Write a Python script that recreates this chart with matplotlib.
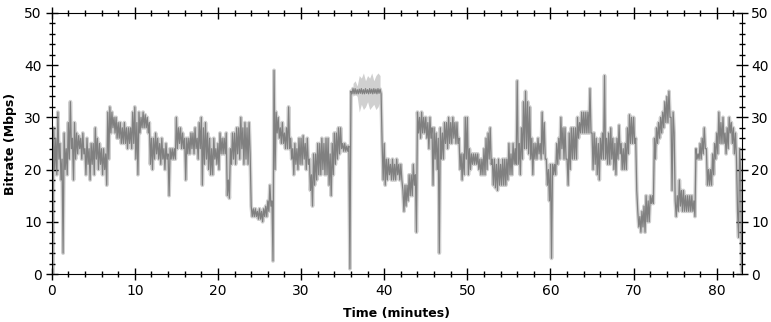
import numpy as np
import matplotlib
matplotlib.use("Agg")
import matplotlib.pyplot as plt
from matplotlib.ticker import MultipleLocator

# upper and lower edge of the dark bitrate trace,
# one value every 0.25 minute (4 per row = 1 minute)
band_hi = [
    28, 28, 26, 31,       # 0
    25, 22, 27, 24,       # 1
    29, 33, 26, 29,       # 2
    27, 26.5, 26, 27,     # 3
    24, 26, 24, 25,       # 4
    25, 28, 26, 25,       # 5
    24, 24, 23, 31,       # 6
    32, 31, 30, 30,       # 7
    29, 29, 28, 29,       # 8
    28, 28, 28, 31,       # 9
    32, 29, 31, 30,       # 10
    31, 30.5, 30, 29,     # 11
    26, 26, 27, 26,       # 12
    25, 26, 24, 25,       # 13
    23, 24, 24, 24,       # 14
    30, 28, 28, 27,       # 15
    26, 26, 26, 27,       # 16
    27, 28, 26, 29,       # 17
    30, 28, 29, 27,       # 18
    26, 24, 26, 24,       # 19
    25, 27, 26, 26,       # 20
    27, 18, 24, 27,       # 21
    27, 28, 28, 30,       # 22
    28, 29, 28, 29,       # 23
    13, 12.5, 12.5, 12,   # 24
    12.5, 12, 12.5, 13,   # 25
    14, 17, 14, 39,       # 26
    31, 30, 28, 29,       # 27
    27, 28, 32, 26,       # 28
    24, 25, 24, 26,       # 29
    26, 26.5, 25, 26,     # 30
    22, 19, 23, 23,       # 31
    25, 25, 26, 25,       # 32
    26, 26, 23, 25,       # 33
    27, 27, 28, 28,       # 34
    25, 25, 24.5, 24.5,   # 35
    35, 35.5, 35.5, 35.3, # 36
    35.4, 35.5, 35.3, 35.5, # 37
    35.3, 35.5, 35.4, 35.5, # 38
    35.4, 35.5, 35.4, 25, # 39
    25, 22, 22, 21,       # 40
    22, 21, 22, 21,       # 41
    21, 16, 17, 17,       # 42
    19, 19, 21, 19,       # 43
    31, 30, 31, 30,       # 44
    30, 29, 30, 28,       # 45
    28, 27, 26, 28,       # 46
    27, 29, 29, 30,       # 47
    29, 30, 29, 29,       # 48
    26, 23, 23, 30,       # 49
    30, 24, 23, 23,       # 50
    23, 23, 22, 22,       # 51
    24, 26, 27, 28,       # 52
    22, 22, 21, 22,       # 53
    21, 22, 22, 22,       # 54
    25, 23, 25, 24,       # 55
    37, 25, 28, 33,       # 56
    35, 33, 32, 26,       # 57
    25, 25, 26, 25,       # 58
    31, 29, 22, 20,       # 59
    21, 21, 21, 25,       # 60
    26, 30, 28, 28,       # 61
    22, 27, 28, 28,       # 62
    28, 30, 29, 31,       # 63
    31, 31, 31, 35.5,     # 64
    27, 27, 26, 25,       # 65
    26, 27, 38, 26,       # 66
    27, 28, 26, 25,       # 67
    26, 28.5, 25, 24,     # 68
    25, 28, 30.5, 30,     # 69
    30, 26, 12, 11,       # 70
    12, 13, 15, 14,       # 71
    15, 15, 26, 28,       # 72
    29, 30, 31, 33,       # 73
    34, 35, 30, 31,       # 74
    14, 15, 18, 16,       # 75
    16, 15, 15, 15,       # 76
    15, 14, 24, 23,       # 77
    25, 26, 28, 24,       # 78
    20, 20, 23, 25,       # 79
    27, 31, 29, 30,       # 80
    27, 28, 30, 29,       # 81
    28, 27, 12, 24,       # 82
    0.5,                  # 83
]
band_lo = [
    0, 20, 19, 22,        # 0
    18, 4, 20, 19,        # 1
    22, 24, 18, 22,       # 2
    23, 24, 22, 23,       # 3
    19, 21, 18, 21,       # 4
    19, 22, 20, 21,       # 5
    19, 20, 17, 22,       # 6
    27, 28, 27, 26,       # 7
    26, 25, 25, 25,       # 8
    24, 25, 24, 25,       # 9
    22, 19, 27, 28,       # 10
    28, 28, 27, 21,       # 11
    20, 22, 23, 22,       # 12
    21, 22, 20, 22,       # 13
    15, 22, 22, 22,       # 14
    24, 25, 24, 24,       # 15
    18, 23, 23, 24,       # 16
    23, 24, 22, 24,       # 17
    17, 21, 22, 20,       # 18
    19, 19, 22, 21,       # 19
    20, 23, 23, 23,       # 20
    15, 14.5, 21, 22,     # 21
    21, 23, 22, 24,       # 22
    21, 22, 21, 23,       # 23
    11, 11, 11, 10.5,     # 24
    10.5, 10, 11, 11,     # 25
    12, 13, 2.5, 20,      # 26
    27, 26, 25, 25,       # 27
    24, 24, 24, 22,       # 28
    19, 21, 20, 21,       # 29
    21, 22, 20, 21,       # 30
    16, 13, 17, 18,       # 31
    19, 19, 20, 19,       # 32
    19, 17, 15, 19,       # 33
    21, 22, 23, 24,       # 34
    23.5, 23.5, 23.5, 1,  # 35
    34.5, 34.5, 34.5, 34.5, # 36
    34.6, 34.5, 34.5, 34.6, # 37
    34.5, 34.6, 34.5, 34.6, # 38
    34.5, 34.6, 34.5, 18, # 39
    17, 18, 19, 18,       # 40
    18, 18, 19, 18,       # 41
    18, 12, 13, 14,       # 42
    15, 15, 17, 8,        # 43
    27, 26, 27, 27,       # 44
    26, 24, 26, 17,       # 45
    22, 20, 4, 22,        # 46
    22, 25, 24, 25,       # 47
    25, 26, 25, 25,       # 48
    20, 18, 19, 22,       # 49
    19, 20, 21, 21,       # 50
    21, 20, 19, 19,       # 51
    19, 20, 22, 21,       # 52
    17, 16.5, 16, 17,     # 53
    17, 17, 17, 18,       # 54
    19, 19, 21, 21,       # 55
    21, 19, 22, 24,       # 56
    24, 23, 22, 19,       # 57
    22, 22, 23, 22,       # 58
    23, 22, 17, 14,       # 59
    3, 19, 19, 21,        # 60
    22, 24, 22, 22,       # 61
    17, 20, 22, 22,       # 62
    22, 26, 27, 27,       # 63
    27, 27, 27, 27,       # 64
    20, 21, 19, 18,       # 65
    22, 22, 22, 21,       # 66
    21, 22, 20, 19,       # 67
    22, 23, 20, 20,       # 68
    20, 23, 25, 25,       # 69
    25, 16, 9, 8,         # 70
    9, 8, 10, 10,         # 71
    13.5, 13.5, 22, 25,   # 72
    26, 27, 28, 29,       # 73
    29, 30, 16, 27,       # 74
    11, 12, 13, 12,       # 75
    12, 12, 12, 12,       # 76
    12, 11, 22, 22,       # 77
    22, 23, 24, 17,       # 78
    17, 17, 19, 22,       # 79
    23, 25, 25, 25,       # 80
    23, 24, 27, 25,       # 81
    23, 22, 7, 20,        # 82
    0,                    # 83
]

# the light-grey spread during the flat 35 Mbps section
spread_start = 36.25
spread_hi = [36.5, 37, 36, 38, 37.5, 38.5, 37, 38, 37.5, 38.5, 37, 38, 38.5, 38]
spread_lo = [34, 34.5, 34, 31, 32.5, 31.5, 32, 33, 31.5, 32, 32.5, 31.5, 32, 33]
spread_t = spread_start + np.arange(len(spread_hi)) * 0.25

# trace goes up and down between the two edges, one point per 1/8 minute
trace = np.column_stack((band_hi, band_lo)).ravel()
minutes = np.arange(len(trace)) * 0.125

fig = plt.figure(figsize=(7.71, 3.22), dpi=100)
ax = fig.add_axes([0.067, 0.149, 0.895, 0.811])

ax.plot(minutes, trace, color="#d0d0d0", lw=2.7, zorder=1)
ax.fill_between(spread_t, spread_lo, spread_hi, color="#d0d0d0", lw=0, zorder=1)
ax.plot(minutes, trace, color="#808080", lw=0.9, zorder=2)

ax.set_xlim(0, 83)
ax.set_ylim(0, 50)
ax.xaxis.set_major_locator(MultipleLocator(10))
ax.xaxis.set_minor_locator(MultipleLocator(2))
ax.yaxis.set_major_locator(MultipleLocator(10))
ax.yaxis.set_minor_locator(MultipleLocator(2))

ax.tick_params(which="major", direction="inout", length=8, width=1, labelsize=10, pad=3)
ax.tick_params(which="minor", direction="inout", length=4, width=1)
ax.tick_params(top=True, right=True, labelright=True, which="both")

ax.set_xlabel("Time (minutes)", fontsize=9, fontweight="bold", labelpad=7)
ax.set_ylabel("Bitrate (Mbps)", fontsize=9, fontweight="bold", labelpad=5)

fig.savefig("out.png", dpi=100)
